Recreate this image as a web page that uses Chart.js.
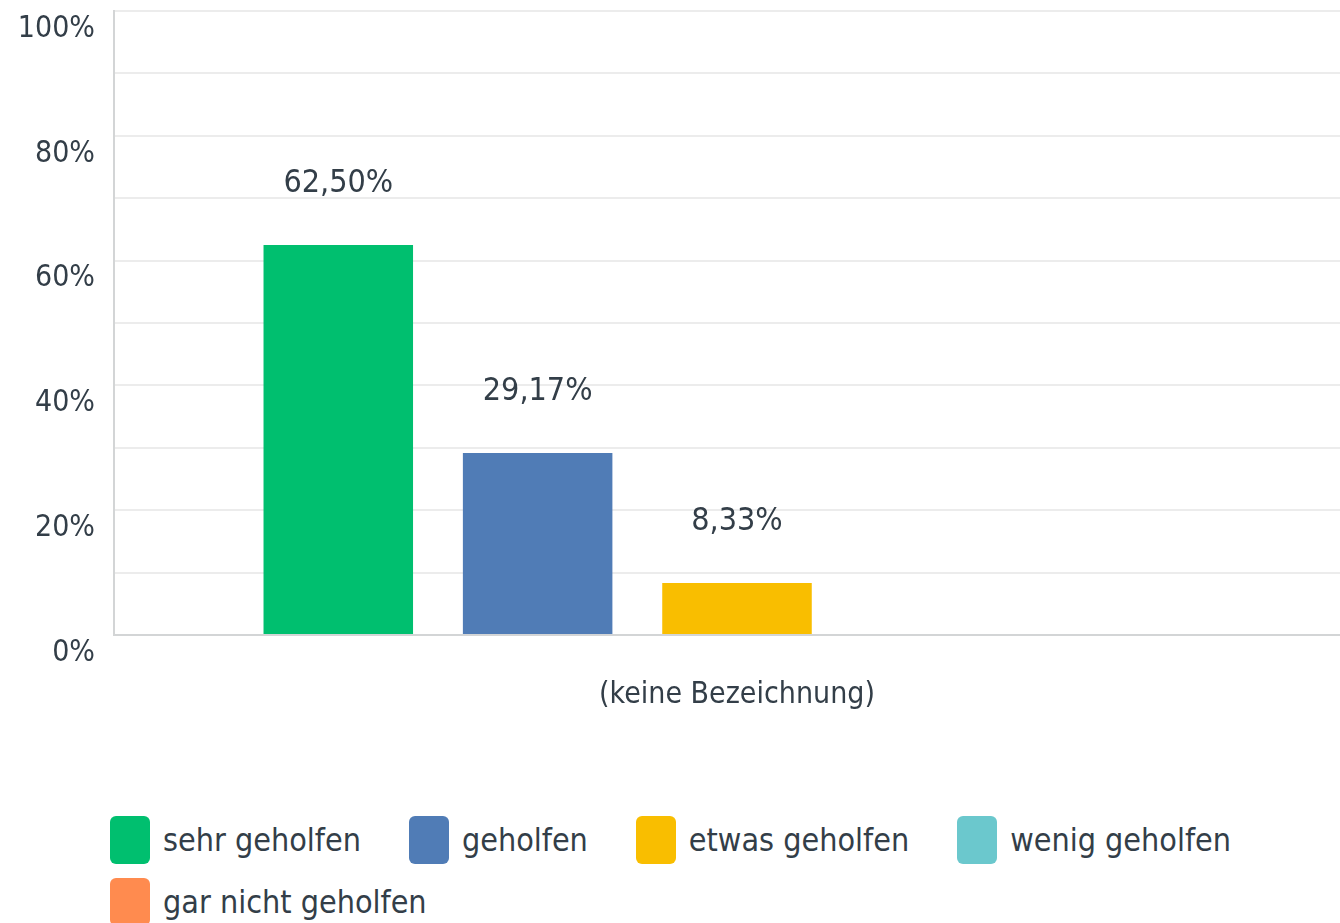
<!DOCTYPE html>
<html lang="de">
<head>
<meta charset="utf-8">
<title>Antworten</title>
<script src="https://cdn.jsdelivr.net/npm/chart.js@4.4.1/dist/chart.umd.min.js"></script>
<style>
    html, body { margin: 0; padding: 0; background: #fff; overflow: hidden; }
    #wrap { position: relative; width: 1360px; height: 760px; }
    #legend {
        display: flex; flex-wrap: wrap; column-gap: 48px; row-gap: 14px;
        margin: 56px 0 0 110px; width: 1200px;
        font-family: 'Liberation Sans Narrow', 'DejaVu Sans Condensed', sans-serif;
        font-size: 32px; color: #333e48;
    }
    .item { display: flex; align-items: center; height: 48px; }
    .box { width: 40px; height: 48px; border-radius: 6px; margin-right: 13px; }
</style>
</head>
<body>
<div id="wrap"><canvas id="chart" width="1360" height="760"></canvas></div>
<div id="legend"></div>
<script>
// data
const categories = ["(keine Bezeichnung)"];
const seriesNames = ["sehr geholfen", "geholfen", "etwas geholfen", "wenig geholfen", "gar nicht geholfen"];
const seriesValues = [62.50, 29.17, 8.33, 0, 0];
const seriesColors = ["#00bf6f", "#507cb6", "#f9be00", "#6bc8cd", "#ff8b4f"];
const yTicks = [0, 20, 40, 60, 80, 100];

const FONT = "'Liberation Sans Narrow', 'DejaVu Sans Condensed', sans-serif";
const TEXT = "#333e48";

const fmt = v => v.toFixed(2).replace(".", ",") + "%";

// value labels above the bars
const valueLabels = {
    id: "valueLabels",
    afterDatasetsDraw(chart) {
        const ctx = chart.ctx;
        ctx.save();
        ctx.font = "32px " + FONT;
        ctx.fillStyle = TEXT;
        ctx.textAlign = "center";
        ctx.textBaseline = "middle";
        chart.data.datasets.forEach((ds, i) => {
            if (!ds.data[0]) return;
            const bar = chart.getDatasetMeta(i).data[0];
            ctx.fillText(fmt(ds.data[0]), bar.x, bar.y - 61);
        });
        ctx.restore();
    }
};

const chart = new Chart(document.getElementById("chart"), {
    type: "bar",
    data: {
        labels: categories,
        datasets: seriesNames.map((name, i) => ({
            label: name,
            data: [seriesValues[i]],
            backgroundColor: seriesColors[i],
            borderWidth: 0,
            categoryPercentage: 0.8,
            barPercentage: 0.75
        }))
    },
    options: {
        responsive: false,
        animation: false,
        layout: { padding: { top: 11, right: 0, bottom: 0, left: 0 } },
        plugins: {
            legend: { display: false },
            tooltip: { enabled: false }
        },
        scales: {
            x: {
                grid: { display: false, drawTicks: false },
                border: { display: true, color: "#d3d5d6", width: 2 },
                ticks: { color: TEXT, font: { family: FONT, size: 30 }, padding: 42 },
                afterFit(scale) { scale.height = 125; }
            },
            y: {
                min: 0,
                max: 100,
                grid: { color: "#ececec", lineWidth: 2, drawTicks: false },
                border: { display: true, color: "#d3d5d6", width: 2 },
                ticks: {
                    stepSize: 10,
                    color: TEXT,
                    font: { family: FONT, size: 30 },
                    padding: 19,
                    labelOffset: 18,
                    callback: v => yTicks.includes(v) ? v + "%" : ""
                },
                afterFit(scale) {
                    scale.width = 114;
                    scale.paddingTop = 0;
                    scale.paddingBottom = 0;
                }
            }
        }
    },
    plugins: [valueLabels]
});

// legend as html below the canvas
const legend = document.getElementById("legend");
seriesNames.forEach((name, i) => {
    const item = document.createElement("div");
    item.className = "item";
    item.innerHTML = `<span class="box" style="background:${seriesColors[i]}"></span><span>${name}</span>`;
    legend.appendChild(item);
});
</script>
</body>
</html>
